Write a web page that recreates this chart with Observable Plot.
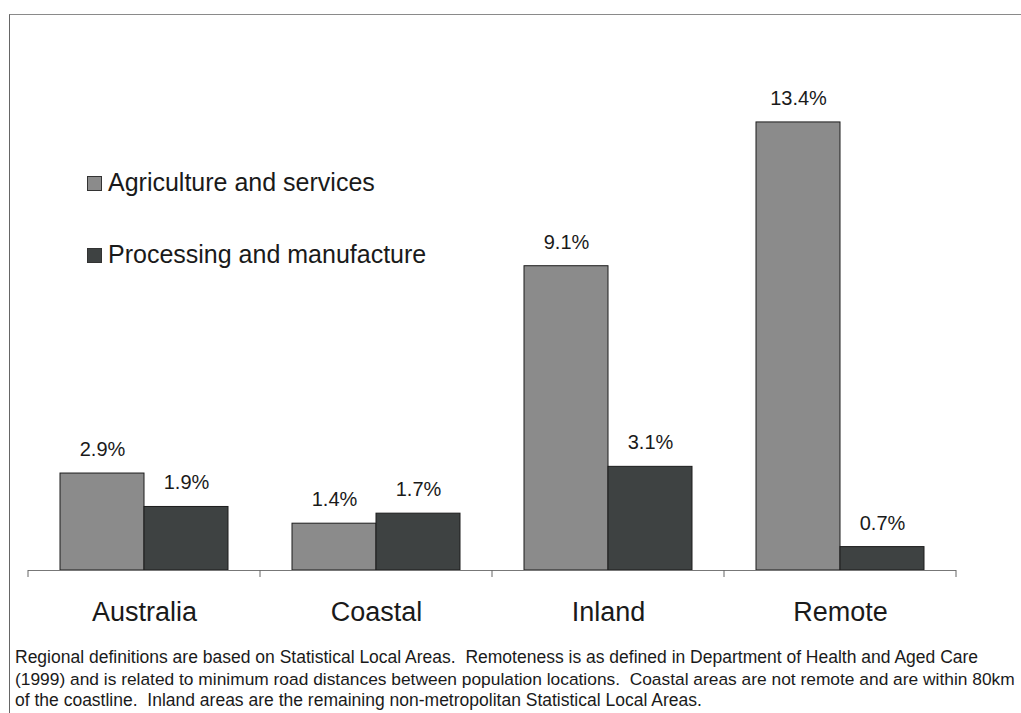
<!DOCTYPE html>
<html>
<head>
<meta charset="utf-8">
<script src="https://cdn.jsdelivr.net/npm/d3@7"></script>
<script src="https://cdn.jsdelivr.net/npm/@observablehq/plot@0.6"></script>
<style>
  html, body { margin: 0; padding: 0; background: #fff; }
  #page { position: relative; width: 1021px; height: 713px; overflow: hidden; font-family: "Liberation Sans", Arial, sans-serif; color: #1a1a1a; }
  #chart { position: absolute; left: 0; top: 0; }
  #frame { position: absolute; left: 9px; top: 14px; width: 1030px; height: 720px; border-left: 1px solid #666; border-top: 1px solid #8a8a8a; pointer-events: none; }
  #legend { position: absolute; left: 87px; top: 167px; }
  .row { position: relative; height: 72px; font-size: 25px; line-height: 30px; white-space: nowrap; }
  .sw { position: absolute; left: 0; top: 9px; width: 13px; height: 13px; border: 1px solid #333; }
  .lab { position: absolute; left: 21px; top: 0; }
  #caption { position: absolute; left: 0; top: 640px; }
</style>
</head>
<body>
<div id="page">
  <div id="chart"></div>
  <div id="legend"></div>
  <svg id="caption" width="1021" height="73"></svg>
  <div id="frame"></div>
</div>
<script>
const categories = ["Australia", "Coastal", "Inland", "Remote"];
const series = ["Agriculture and services", "Processing and manufacture"];
const agriculture = [2.9, 1.4, 9.1, 13.4];
const processing = [1.9, 1.7, 3.1, 0.7];
const colors = ["#8b8b8b", "#3e4242"];
const captionLines = [
  "Regional definitions are based on Statistical Local Areas.  Remoteness is as defined in Department of Health and Aged Care",
  "(1999) and is related to minimum road distances between population locations.  Coastal areas are not remote and are within 80km",
  "of the coastline.  Inland areas are the remaining non-metropolitan Statistical Local Areas."
];

const data = [];
categories.forEach((c, i) => {
  data.push({category: c, series: series[0], value: agriculture[i]});
  data.push({category: c, series: series[1], value: processing[i]});
});

const chart = Plot.plot({
  width: 1021,
  height: 640,
  marginLeft: 28,
  marginRight: 65,
  marginTop: 35,
  marginBottom: 70,
  style: {fontFamily: "Liberation Sans, Arial, sans-serif", background: "transparent", color: "#1a1a1a"},
  fx: {domain: categories, padding: 0, axis: null},
  x: {domain: series, paddingInner: 0, paddingOuter: 0.373, axis: null},
  y: {domain: [0, 16], axis: null},
  color: {domain: series, range: colors},
  marks: [
    Plot.barY(data, {fx: "category", x: "series", y: "value", fill: "series", stroke: "#1c1c1c", strokeWidth: 1}),
    Plot.ruleY([0], {stroke: "#777", strokeWidth: 1}),
    Plot.text(data, {fx: "category", x: "series", y: "value", text: d => d.value.toFixed(1) + "%", dy: -24, fontSize: 20, fill: "#1a1a1a"}),
    Plot.text(categories, {fx: d => d, text: d => d, frameAnchor: "bottom", dy: 50, fontSize: 27, fill: "#1a1a1a"})
  ]
});
document.getElementById("chart").appendChild(chart);

// category boundary ticks from the fx scale
const fx = chart.scale("fx");
const y = chart.scale("y");
const y0 = y.apply(0);
const edges = categories.map(c => fx.apply(c));
edges.push(fx.apply(categories[categories.length - 1]) + fx.bandwidth);
const svg = d3.select(chart.tagName.toLowerCase() === "svg" ? chart : chart.querySelector("svg"));
svg.append("g").selectAll("line").data(edges).join("line")
  .attr("x1", d => d).attr("x2", d => d)
  .attr("y1", y0).attr("y2", y0 + 7)
  .attr("stroke", "#666").attr("stroke-width", 1);

// legend
const legend = d3.select("#legend");
series.forEach((s, i) => {
  const row = legend.append("div").attr("class", "row");
  row.append("div").attr("class", "sw").style("background", colors[i]);
  row.append("div").attr("class", "lab").text(s);
});

// caption
const cap = d3.select("#caption");
const baseSize = 17.5;
const maxLen = 1021 - 15 - 6;
cap.selectAll("text").data(captionLines).join("text")
  .attr("x", 15)
  .attr("y", (d, i) => 23 + i * 21.5)
  .attr("font-size", baseSize)
  .attr("fill", "#1a1a1a")
  .attr("font-family", "Liberation Sans, Arial, sans-serif")
  .attr("xml:space", "preserve")
  .text(d => d)
  .each(function() {
    const len = this.getComputedTextLength();
    if (len > maxLen) this.setAttribute("font-size", (baseSize * maxLen / len).toFixed(2));
  });
</script>
</body>
</html>
